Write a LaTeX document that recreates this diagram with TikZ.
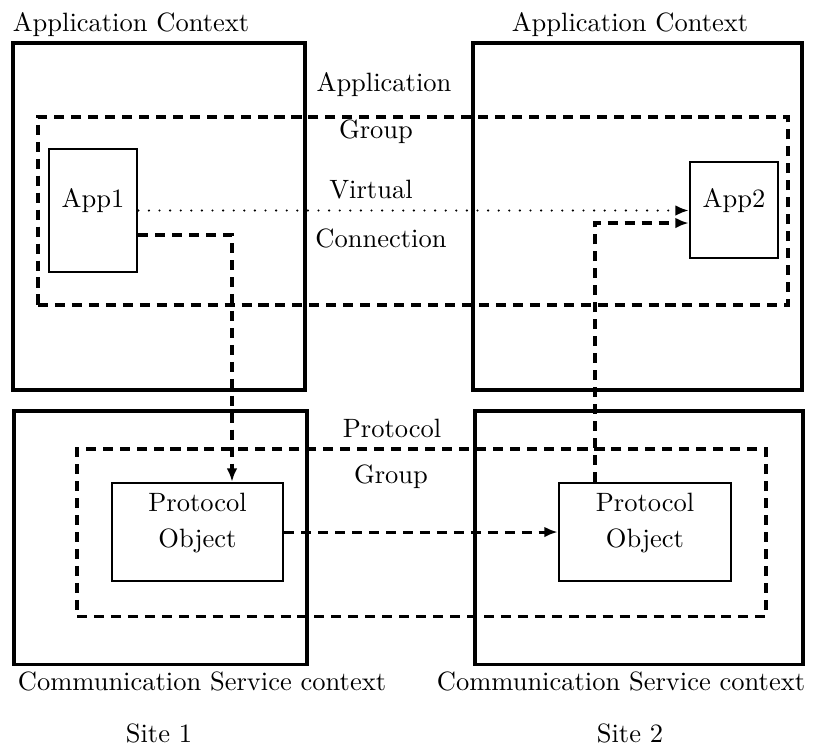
\documentclass[tikz,border=0pt]{standalone}
\usepackage{tikz}
\usetikzlibrary{positioning,fit,arrows.meta}

\tikzset{
  ctxbox/.style={draw,line width=1.15pt,inner sep=0pt},
  objbox/.style={draw,line width=1pt,inner sep=0pt,align=center},
  grpbox/.style={draw,line width=1.15pt,inner sep=0pt,dash pattern=on 3.8pt off 2.6pt},
  msgarrow/.style={line width=1.15pt,dash pattern=on 3.8pt off 2.6pt,-{Latex[length=5pt,width=4pt]}},
  vconn/.style={line width=0.9pt,line cap=round,dash pattern=on 0pt off 4pt,-{Latex[length=5pt,width=4pt]}},
  lbl/.style={inner sep=0pt}
}

\begin{document}
\begin{tikzpicture}[x=0.3774pt,y=-0.3774pt]
\useasboundingbox (0,0) rectangle (814,751);
%% contexts
\node (ac1) [ctxbox,fit={(13,43) (305,390)}] {};
\node (ac2) [ctxbox,fit={(473,43) (802,390)}] {};
\node (cs1) [ctxbox,fit={(14,411) (307,664)}] {};
\node (cs2) [ctxbox,fit={(475,411) (803,664)}] {};
%% groups
\node (appgrp) [grpbox,fit={(38,117) (788,305)}] {};
\node (protgrp) [grpbox,fit={(77,449) (766,616)}] {};
%% objects
\node (app1) [objbox,fit={(49,149) (137,272)}] {App1};
\node (app2) [objbox,fit={(690,162) (778,258)}] {App2};
\node (po1) [objbox,fit={(112,483) (283,581)}] {Protocol\\[1.6pt]Object};
\node (po2) [objbox,fit={(559,483) (731,581)}] {Protocol\\[1.6pt]Object};
%% labels
\node (ac1lbl) at (131,25) [lbl] {Application Context};
\node (ac2lbl) at (630,25) [lbl] {Application Context};
\node (grplbla) at (384,85) [lbl] {Application};
\node (grplblb) at (376,132) [lbl] {Group};
\node (vclbla) at (371,190) [lbl] {Virtual};
\node (vclblb) at (381,238) [lbl] {Connection};
\node (pglbla) at (392,428) [lbl] {Protocol};
\node (pglblb) at (391,477) [lbl] {Group};
\node (cs1lbl) at (202,681) [lbl] {Communication Service context};
\node (cs2lbl) at (621,681) [lbl] {Communication Service context};
\node (site1) at (159,733) [lbl] {Site 1};
\node (site2) at (630,733) [lbl] {Site 2};
%% connections
\coordinate (bend1) at (232,235);
\coordinate (bend2) at (595,223);
\draw [vconn] (app1.east) -- (app1.east -| app2.west);
\draw [msgarrow] (app1.east |- bend1) -- (bend1) -- (bend1 |- po1.north);
\draw [msgarrow] (po1.east) -- (po2.west);
\draw [msgarrow] (po2.north -| bend2) -- (bend2) -- (bend2 -| app2.west);
%
\end{tikzpicture}
\end{document}
